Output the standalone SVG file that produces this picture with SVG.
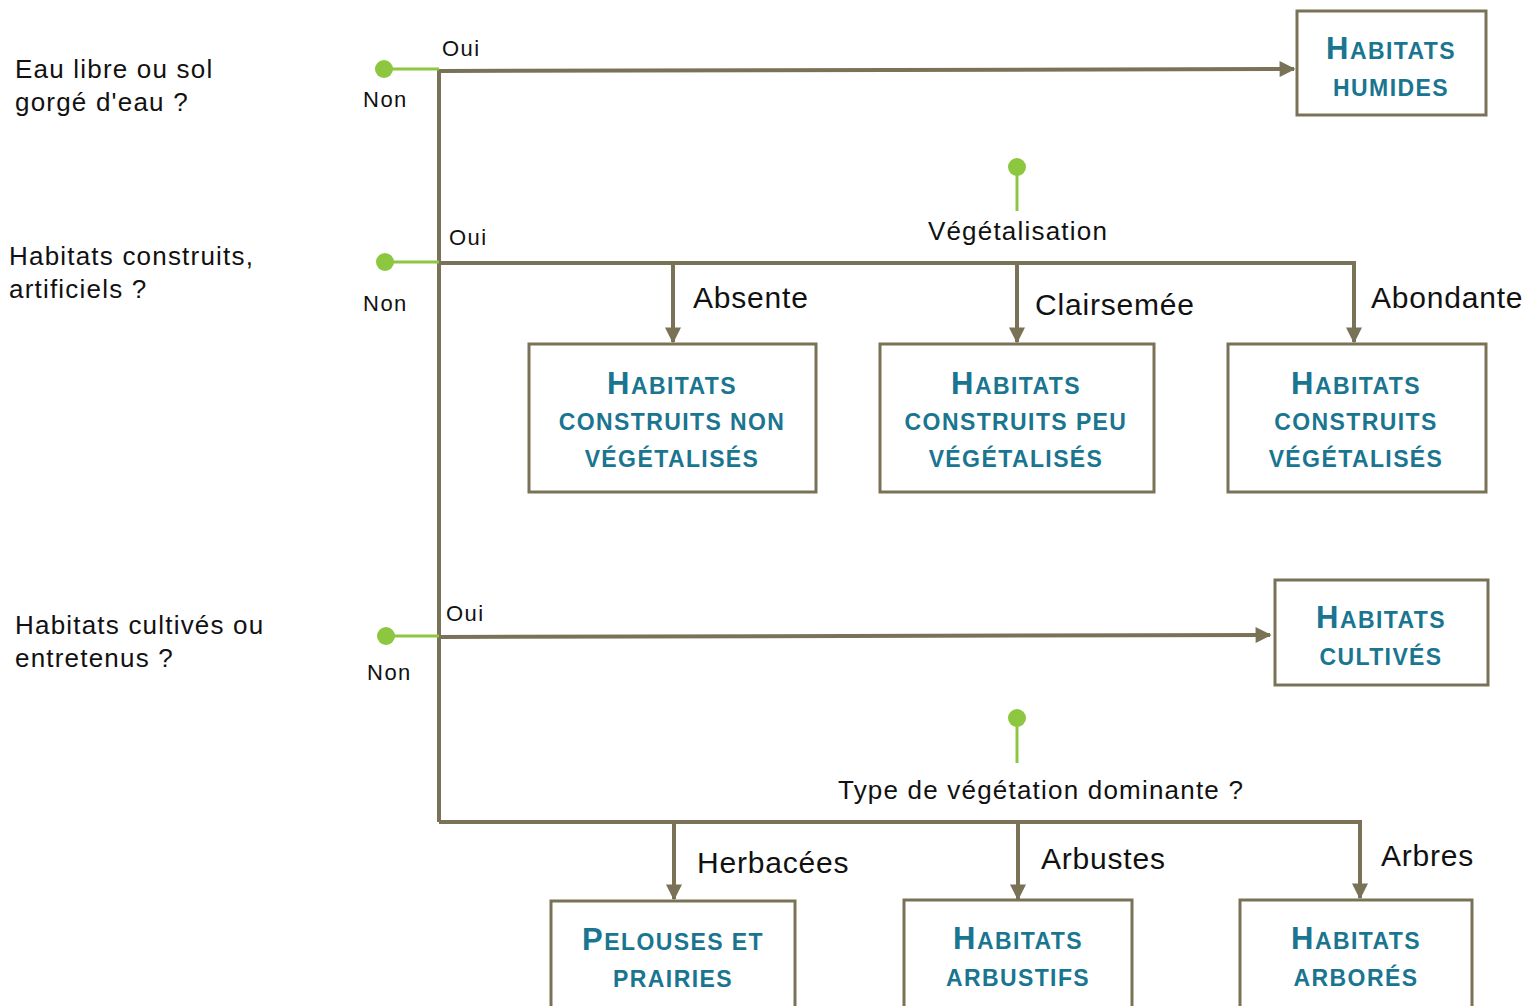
<svg xmlns="http://www.w3.org/2000/svg" width="1528" height="1006" viewBox="0 0 1528 1006">
<style>
.ln{stroke:#7a7256;stroke-width:4;fill:none}
.gl{stroke:#8dc63f;stroke-width:3;fill:none}
.gd{fill:#8dc63f}
.box{fill:#fff;stroke:#7a7256;stroke-width:3}
.q{font-family:"Liberation Sans",Arial,sans-serif;font-size:26px;letter-spacing:1.2px;fill:#111}
.yn{font-family:"Liberation Sans",Arial,sans-serif;font-size:22px;letter-spacing:1.5px;fill:#111}
.br{font-family:"Liberation Sans",Arial,sans-serif;font-size:30px;letter-spacing:0.8px;fill:#111}
.bt{font-family:"Liberation Sans",Arial,sans-serif;font-weight:bold;font-size:23px;fill:#1a7590;text-anchor:middle;letter-spacing:1.4px}
.big{font-size:31px}
</style>
<defs>
<marker id="ar" viewBox="0 0 10 10" refX="9" refY="5" markerUnits="userSpaceOnUse" markerWidth="18" markerHeight="16" orient="auto">
<path d="M0,0 L10,5 L0,10 z" fill="#7a7256"/>
</marker>
</defs>
<rect width="1528" height="1006" fill="#fff"/>
<g id="connectors">
<path class="ln" d="M439,69 V822"/>
<path class="ln" d="M439,71 L1294,69" marker-end="url(#ar)"/>
<path class="ln" d="M439,263 H1354 V342" marker-end="url(#ar)"/>
<path class="ln" d="M673,263 V342" marker-end="url(#ar)"/>
<path class="ln" d="M1017,263 V342" marker-end="url(#ar)"/>
<path class="ln" d="M439,637 L1270,635" marker-end="url(#ar)"/>
<path class="ln" d="M439,822 H1360 V898" marker-end="url(#ar)"/>
<path class="ln" d="M674,822 V899" marker-end="url(#ar)"/>
<path class="ln" d="M1018,822 V899" marker-end="url(#ar)"/>
<path class="gl" d="M384,69 H439"/>
<path class="gl" d="M385,262 H439"/>
<path class="gl" d="M386,636 H439"/>
<path class="gl" d="M1017,167 V211"/>
<path class="gl" d="M1017,718 V763"/>
<circle class="gd" cx="384" cy="69" r="9"/>
<circle class="gd" cx="385" cy="262" r="9"/>
<circle class="gd" cx="386" cy="636" r="9"/>
<circle class="gd" cx="1017" cy="167" r="9"/>
<circle class="gd" cx="1017" cy="718" r="9"/>
</g>
<g id="labels">
<text class="q" x="15" y="78">Eau libre ou sol</text>
<text class="q" x="15" y="111">gorgé d'eau ?</text>
<text class="q" x="9" y="265">Habitats construits,</text>
<text class="q" x="9" y="298">artificiels ?</text>
<text class="q" x="15" y="634">Habitats cultivés ou</text>
<text class="q" x="15" y="667">entretenus ?</text>
<text class="yn" x="442" y="56">Oui</text>
<text class="yn" x="363" y="107">Non</text>
<text class="yn" x="449" y="245">Oui</text>
<text class="yn" x="363" y="311">Non</text>
<text class="yn" x="446" y="621">Oui</text>
<text class="yn" x="367" y="680">Non</text>
<text class="q" x="1018" y="240" text-anchor="middle">Végétalisation</text>
<text class="br" x="693" y="308">Absente</text>
<text class="br" x="1035" y="315">Clairsemée</text>
<text class="br" x="1371" y="308">Abondante</text>
<text class="q" x="838" y="799">Type de végétation dominante ?</text>
<text class="br" x="697" y="873">Herbacées</text>
<text class="br" x="1041" y="869">Arbustes</text>
<text class="br" x="1381" y="866">Arbres</text>
</g>
<g id="n-humides">
<rect class="box" x="1297" y="11" width="189" height="104"/>
<text class="bt" x="1391" y="59"><tspan class="big">H</tspan>ABITATS</text>
<text class="bt" x="1391" y="96">HUMIDES</text>
</g>
<g id="n-construits-non">
<rect class="box" x="529" y="344" width="287" height="148"/>
<text class="bt" x="672" y="394"><tspan class="big">H</tspan>ABITATS</text>
<text class="bt" x="672" y="430">CONSTRUITS NON</text>
<text class="bt" x="672" y="467">VÉGÉTALISÉS</text>
</g>
<g id="n-construits-peu">
<rect class="box" x="880" y="344" width="274" height="148"/>
<text class="bt" x="1016" y="394"><tspan class="big">H</tspan>ABITATS</text>
<text class="bt" x="1016" y="430">CONSTRUITS PEU</text>
<text class="bt" x="1016" y="467">VÉGÉTALISÉS</text>
</g>
<g id="n-construits-veg">
<rect class="box" x="1228" y="344" width="258" height="148"/>
<text class="bt" x="1356" y="394"><tspan class="big">H</tspan>ABITATS</text>
<text class="bt" x="1356" y="430">CONSTRUITS</text>
<text class="bt" x="1356" y="467">VÉGÉTALISÉS</text>
</g>
<g id="n-cultives">
<rect class="box" x="1275" y="580" width="213" height="105"/>
<text class="bt" x="1381" y="628"><tspan class="big">H</tspan>ABITATS</text>
<text class="bt" x="1381" y="665">CULTIVÉS</text>
</g>
<g id="n-pelouses">
<rect class="box" x="551" y="901" width="244" height="115"/>
<text class="bt" x="673" y="950"><tspan class="big">P</tspan>ELOUSES ET</text>
<text class="bt" x="673" y="987">PRAIRIES</text>
</g>
<g id="n-arbustifs">
<rect class="box" x="904" y="900" width="228" height="116"/>
<text class="bt" x="1018" y="949"><tspan class="big">H</tspan>ABITATS</text>
<text class="bt" x="1018" y="986">ARBUSTIFS</text>
</g>
<g id="n-arbores">
<rect class="box" x="1240" y="900" width="232" height="116"/>
<text class="bt" x="1356" y="949"><tspan class="big">H</tspan>ABITATS</text>
<text class="bt" x="1356" y="986">ARBORÉS</text>
</g>
</svg>
